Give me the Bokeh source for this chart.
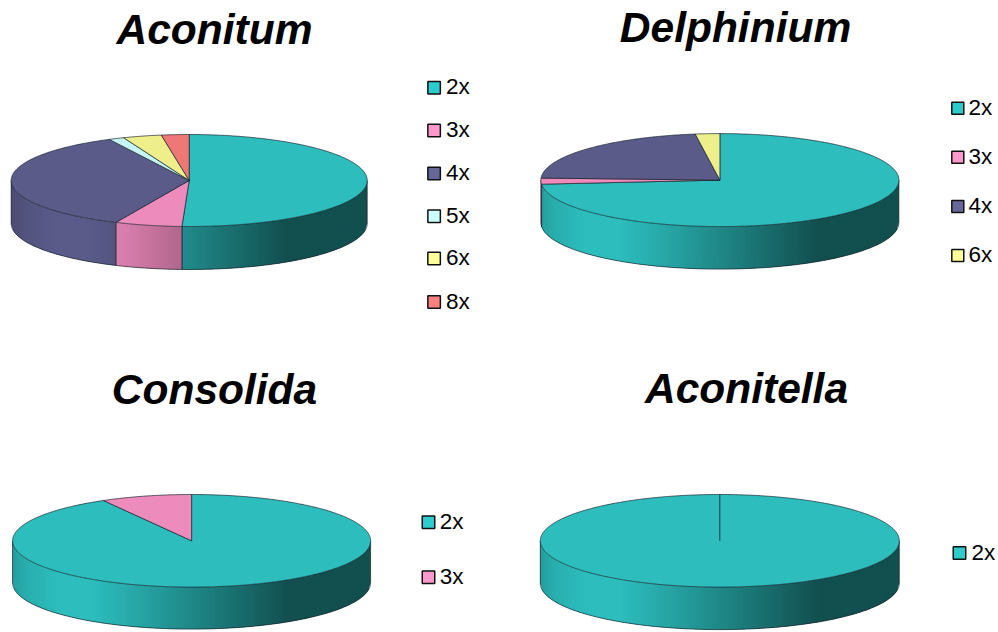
import numpy as np
from bokeh.plotting import figure
from bokeh.embed import file_html
from bokeh.resources import INLINE
from bokeh.core.properties import value

# ---- data (percent shares, clockwise from 12 o'clock) ----
aconitum_labels = ["2x", "3x", "4x", "5x", "6x", "8x"]
aconitum_values = [50.6, 6.1, 35.8, 1.4, 3.5, 2.5]
delphinium_labels = ["2x", "3x", "4x", "6x"]
delphinium_values = [73.6, 2.1, 22.1, 2.2]
consolida_labels = ["2x", "3x"]
consolida_values = [91.8, 8.2]
aconitella_labels = ["2x"]
aconitella_values = [100.0]

# ---- styles / layout ----
PIE_COL = {"2x": "#2dbdbd", "3x": "#ee8bbd", "4x": "#5b5b8a", "5x": "#c5f5f5", "6x": "#eeee8b", "8x": "#ee7777"}
KEY_COL = {"2x": "#2ccccc", "3x": "#ff99cc", "4x": "#666699", "5x": "#ccffff", "6x": "#ffff99", "8x": "#ff8080"}
EDGE = "#14202a"
panels = [
    dict(title="Aconitum", tx=214, ty=29, labels=aconitum_labels, vals=aconitum_values,
         cx=188.7, cy=180, rx=178, ry=46, d=43, kx=433.6, ky=[87.3, 130, 173, 215.7, 258, 301.5], k=12.5, tdx=12.4),
    dict(title="Delphinium", tx=735, ty=27, labels=delphinium_labels, vals=delphinium_values,
         cx=719.4, cy=179.6, rx=179, ry=46.5, d=42.5, kx=957.3, ky=[107.7, 156.7, 206, 255], k=12, tdx=11.2),
    dict(title="Consolida", tx=214, ty=389, labels=consolida_labels, vals=consolida_values,
         cx=191.1, cy=540.3, rx=179, ry=46.3, d=42, kx=428, ky=[521.7, 576.7], k=12.5, tdx=11.8),
    dict(title="Aconitella", tx=746, ty=388, labels=aconitella_labels, vals=aconitella_values,
         cx=719.3, cy=540.3, rx=179.5, ry=46.3, d=42.5, kx=959, ky=[552.5], k=12.5, tdx=12.6),
]
GRAD_T = [0, .04, .12, .22, .33, .5, .775, 1]
GRAD_M = [.84, .92, 1.0, 1.0, .90, .72, .42, .42]

def shade(hex_col, m):
    r, g, b = (int(hex_col[i:i + 2], 16) for i in (1, 3, 5))
    return "#%02x%02x%02x" % (int(r * m), int(g * m), int(b * m))

p = figure(width=998, height=632, x_range=(0, 998), y_range=(632, 0),
           output_backend="svg", toolbar_location=None, min_border=0)
p.axis.visible = False
p.grid.visible = False
p.outline_line_color = None
p.background_fill_color = "white"

for pn in panels:
    cx, cy, rx, ry, d = pn["cx"], pn["cy"], pn["rx"], pn["ry"], pn["d"]
    vals = np.array(pn["vals"], float)
    edges = np.concatenate([[0], np.cumsum(vals)]) / vals.sum() * 360.0
    px = lambda a: cx + rx * np.sin(np.radians(a))
    py = lambda a: cy - ry * np.cos(np.radians(a))

    # side wall: front half (90..270 degrees), slice by slice
    for lab, a0, a1 in zip(pn["labels"], edges[:-1], edges[1:]):
        lo, hi = max(a0, 90), min(a1, 270)
        if hi <= lo:
            continue
        n = max(2, int((px(lo) - px(hi)) / 2.0) + 1)
        xs_e = np.linspace(px(lo), px(hi), n + 1)
        ang = 180 - np.degrees(np.arcsin(np.clip((xs_e - cx) / rx, -1, 1)))
        ang[0], ang[-1] = lo, hi
        ys_e = py(ang)
        sx, sy, cols = [], [], []
        for i in range(n):
            j = min(i + 2, n)  # overlap the next strip to hide seams
            t = ((xs_e[i] + xs_e[i + 1]) / 2 - (cx - rx)) / (2 * rx)
            sx.append([xs_e[i], xs_e[i + 1], xs_e[j], xs_e[j], xs_e[i + 1], xs_e[i]])
            sy.append([ys_e[i], ys_e[i + 1], ys_e[j], ys_e[j] + d, ys_e[i + 1] + d, ys_e[i] + d])
            cols.append(shade(PIE_COL[lab], float(np.interp(t, GRAD_T, GRAD_M))))
        p.patches(sx, sy, fill_color=cols, line_color=None)
        # slice boundaries on the wall
        for a in (lo, hi):
            if a not in (90, 270):
                p.line([px(a), px(a)], [py(a), py(a) + d], line_color=EDGE, line_width=0.8, line_alpha=.85)

    # wall outline
    arc = np.linspace(90, 270, 181)
    p.line(px(arc), py(arc) + d, line_color=EDGE, line_width=0.8, line_alpha=.85)
    p.line([cx + rx, cx + rx], [cy, cy + d], line_color=EDGE, line_width=0.8, line_alpha=.85)
    p.line([cx - rx, cx - rx], [cy, cy + d], line_color=EDGE, line_width=0.8, line_alpha=.85)

    # top face
    for lab, a0, a1 in zip(pn["labels"], edges[:-1], edges[1:]):
        a = np.linspace(a0, a1, max(3, int(a1 - a0) * 2))
        if len(vals) > 1:
            xs = np.concatenate([[cx], px(a)])
            ys = np.concatenate([[cy], py(a)])
        else:
            xs, ys = px(a), py(a)
        p.patch(xs, ys, fill_color=PIE_COL[lab], line_color=EDGE, line_width=0.8, line_alpha=.85)
    if len(vals) == 1:
        p.line([cx, cx], [cy, cy - ry], line_color=EDGE, line_width=0.8)

    # legend
    p.rect([pn["kx"]] * len(pn["ky"]), pn["ky"], width=pn["k"], height=pn["k"],
           fill_color=[KEY_COL[l] for l in pn["labels"]], line_color="#111111", line_width=1.5)
    p.text([pn["kx"] + pn["tdx"] - 0.6] * len(pn["ky"]), [y - 1 for y in pn["ky"]], text=pn["labels"],
           text_font=value("Liberation Sans"), text_font_size="22.5px",
           text_baseline="middle", text_align="left", text_color="#000000")

    # title
    p.text([pn["tx"]], [pn["ty"]], text=[pn["title"]], text_font=value("Liberation Sans"),
           text_font_size="42.5px", text_font_style="bold italic",
           text_align="center", text_baseline="middle", text_color="#000000")

open("out.html", "w").write(file_html(p, INLINE))
